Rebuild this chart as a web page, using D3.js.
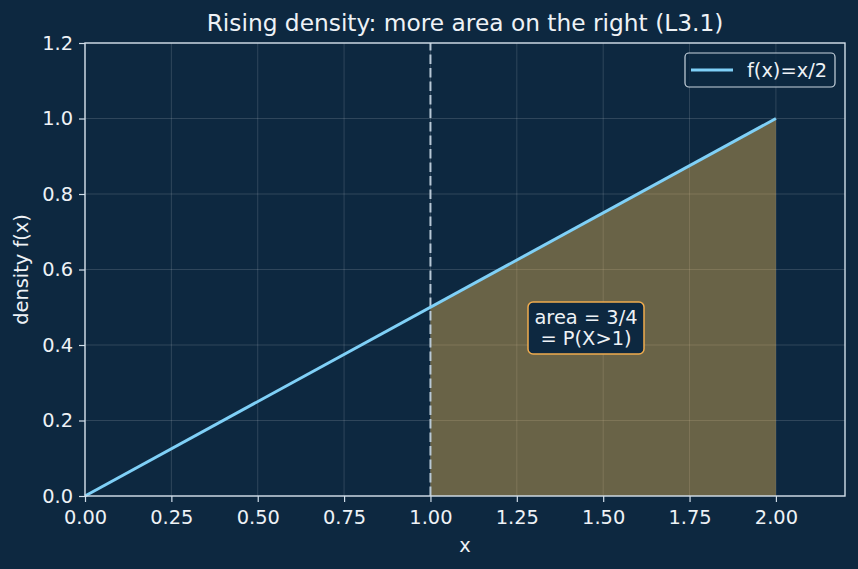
<!DOCTYPE html>
<html><head><meta charset="utf-8">
<script src="https://cdn.jsdelivr.net/npm/d3@7"></script>
<style>
html,body{margin:0;padding:0;background:#0d2840;}
svg text{font-family:"DejaVu Sans",sans-serif;}
</style></head>
<body>
<svg id="c" width="858" height="569"></svg>
<script>
const lineX = [0, 2];
const lineY = [0, 1];
const areaX = [1, 2];
const areaY = [0.5, 1];
const xTicks = [0, 0.25, 0.5, 0.75, 1.0, 1.25, 1.5, 1.75, 2.0];
const yTicks = [0, 0.2, 0.4, 0.6, 0.8, 1.0, 1.2];
const cutX = 1;
const titleText = "Rising density: more area on the right (L3.1)";
const legendLabel = "f(x)=x/2";
const annotLines = ["area = 3/4", "= P(X>1)"];

const W = 858, H = 569;
const m = {l:85, r:13, t:43, b:73};
const FS = "19.4px", TFS = "23.3px";
const svg = d3.select("#c");
svg.append("rect").attr("width",W).attr("height",H).attr("fill","#0d2840");
const x = d3.scaleLinear().domain([0,2.2]).range([m.l, W-m.r]);
const y = d3.scaleLinear().domain([0,1.2]).range([H-m.b, m.t]);
const fg = "#eef2f6", spine="#d0dde9";

// grid
const g = svg.append("g");
g.selectAll(".gx").data(xTicks).join("line")
 .attr("x1",d=>x(d)).attr("x2",d=>x(d)).attr("y1",y(0)).attr("y2",y(1.2))
 .attr("stroke","#ffffff").attr("stroke-opacity",0.18).attr("stroke-width",0.8);
g.selectAll(".gy").data(yTicks).join("line")
 .attr("y1",d=>y(d)).attr("y2",d=>y(d)).attr("x1",x(0)).attr("x2",x(2.2))
 .attr("stroke","#ffffff").attr("stroke-opacity",0.18).attr("stroke-width",0.8);

// area
const area = d3.area().x((d,i)=>x(areaX[i])).y0(y(0)).y1((d,i)=>y(areaY[i]));
svg.append("path").datum(areaX).attr("d",area).attr("fill","#f6bb52").attr("fill-opacity",0.4);

// dashed line
svg.append("line").attr("x1",x(cutX)).attr("x2",x(cutX)).attr("y1",y(0)).attr("y2",y(1.2))
 .attr("stroke","#b8c8d6").attr("stroke-width",2).attr("stroke-dasharray","9.5,4");

// main line
const ln = d3.line().x((d,i)=>x(lineX[i])).y((d,i)=>y(lineY[i]));
svg.append("path").datum(lineX).attr("d",ln).attr("fill","none").attr("stroke","#7fd0f7").attr("stroke-width",3);

// axes
const xa = svg.append("g").attr("transform",`translate(0,${y(0)})`)
 .call(d3.axisBottom(x).tickValues(xTicks).tickFormat(d3.format(".2f")).tickSize(6).tickPadding(8));
const ya = svg.append("g").attr("transform",`translate(${x(0)},0)`)
 .call(d3.axisLeft(y).tickValues(yTicks).tickFormat(d3.format(".1f")).tickSize(6).tickPadding(6));
[xa,ya].forEach(a=>{
  a.attr("font-size",FS).attr("font-family","DejaVu Sans");
  a.select(".domain").remove();
  a.selectAll("line").attr("stroke",spine).attr("stroke-width",1.2);
  a.selectAll("text").attr("fill",fg);
});
// spines
svg.append("rect").attr("x",x(0)).attr("y",y(1.2)).attr("width",x(2.2)-x(0)).attr("height",y(0)-y(1.2))
 .attr("fill","none").attr("stroke",spine).attr("stroke-width",1.4);

// title & labels
svg.append("text").attr("x",(x(0)+x(2.2))/2).attr("y",31).attr("text-anchor","middle")
 .attr("fill",fg).attr("font-size",TFS).text(titleText);
svg.append("text").attr("x",(x(0)+x(2.2))/2).attr("y",552).attr("text-anchor","middle")
 .attr("fill",fg).attr("font-size",FS).text("x");
svg.append("text").attr("transform",`translate(28,${(y(0)+y(1.2))/2}) rotate(-90)`).attr("text-anchor","middle")
 .attr("fill",fg).attr("font-size",FS).text("density f(x)");

// legend
const lg = svg.append("g");
lg.append("rect").attr("x",685).attr("y",53).attr("width",150).attr("height",34).attr("rx",4)
 .attr("fill","#0d2840").attr("fill-opacity",0.8).attr("stroke","#c8d4de").attr("stroke-width",1.2);
lg.append("line").attr("x1",691).attr("x2",733).attr("y1",70).attr("y2",70).attr("stroke","#7fd0f7").attr("stroke-width",3);
lg.append("text").attr("x",747).attr("y",77).attr("fill",fg).attr("font-size",FS).text(legendLabel);

// annotation
const an = svg.append("g");
an.append("rect").attr("x",528).attr("y",302).attr("width",116).attr("height",52).attr("rx",5)
 .attr("fill","#0d2840").attr("stroke","#f0ac4e").attr("stroke-width",1.5);
an.selectAll("text").data(annotLines).join("text")
 .attr("x",586).attr("y",(d,i)=>324+i*21).attr("text-anchor","middle")
 .attr("fill",fg).attr("font-size",FS).text(d=>d);
</script>
</body></html>
